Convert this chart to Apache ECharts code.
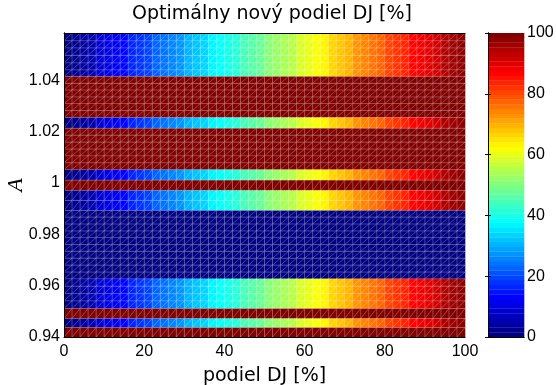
<!DOCTYPE html>
<html>
<head>
<meta charset="utf-8">
<script src="https://cdn.jsdelivr.net/npm/echarts@6/dist/echarts.min.js"></script>
<style>
  html, body { margin: 0; padding: 0; background: #fff; }
  #chart { width: 556px; height: 385px; }
</style>
</head>
<body>
<div id="chart"></div>
<script>
// column edges along "podiel DJ [%]"
var xEdges = [0, 2, 4, 6, 8, 10, 12, 14, 16, 18, 20, 22, 24, 26, 28, 30, 32, 34, 36, 38, 40,
  42, 44, 46, 48, 50, 52, 54, 56, 58, 60, 62, 64, 66, 68, 70, 72, 74, 76, 78, 80,
  82, 84, 86, 88, 90, 92, 94, 96, 98, 100];

// row edges along A (top to bottom)
var rowEdges = [1.0584, 1.0554, 1.0526, 1.0497, 1.0468, 1.0441, 1.0415, 1.0388, 1.0362, 1.0335,
  1.0309, 1.0282, 1.0255, 1.0213, 1.0186, 1.0159, 1.0132, 1.0106, 1.0079, 1.0052,
  1.0011, 0.9971, 0.9932, 0.9893, 0.9867, 0.9840, 0.9813, 0.9787, 0.9760, 0.9734,
  0.9707, 0.9680, 0.9653, 0.9627, 0.9598, 0.9569, 0.9541, 0.9511, 0.9472, 0.9437, 0.94];

// what each row holds: 'grad' = same as podiel DJ, 'max' = 100, 'min' = 0
var rowKind = [
  'grad', 'grad', 'grad', 'grad', 'grad', 'grad',
  'max', 'max', 'max', 'max', 'max', 'max',
  'grad',
  'max', 'max', 'max', 'max', 'max', 'max',
  'grad',
  'max',
  'grad', 'grad',
  'min', 'min', 'min', 'min', 'min', 'min', 'min', 'min', 'min', 'min',
  'grad', 'grad', 'grad', 'grad',
  'max',
  'grad',
  'max'
];

var xTicks = [0, 20, 40, 60, 80, 100];
var yTickStep = 0.02;
var cbarTicks = [0, 20, 40, 60, 80, 100];
var colorSteps = 64;

var jet = ['#000080', '#0000ff', '#0080ff', '#00ffff', '#80ff80', '#ffff00', '#ff8000', '#ff0000', '#800000'];

function level(v) {
  var idx = Math.min(colorSteps - 1, Math.floor(v / 100 * colorSteps));
  return idx / (colorSteps - 1) * 100;
}

var cells = [];
for (var r = 0; r < rowKind.length; r++) {
  for (var c = 0; c < xEdges.length - 1; c++) {
    var v = rowKind[r] === 'max' ? 100 : (rowKind[r] === 'min' ? 0 : xEdges[c]);
    cells.push([xEdges[c], xEdges[c + 1], rowEdges[r + 1], rowEdges[r], v, level(v)]);
  }
}

var bands = [];
for (var i = 0; i < colorSteps; i++) {
  var lo = i * 100 / colorSteps, hi = (i + 1) * 100 / colorSteps;
  bands.push([0, 1, lo, hi, lo, i / (colorSteps - 1) * 100]);
}

var chart = echarts.init(document.getElementById('chart'));
var font = 'Liberation Sans, Arial, sans-serif';
var textFont = 'DejaVu Sans, sans-serif';
var meshColor = 'rgba(255,255,255,0.26)';

function cellItem(mesh) {
  return function (params, api) {
    var p0 = api.coord([api.value(0), api.value(2)]);
    var p1 = api.coord([api.value(1), api.value(3)]);
    var x = p0[0], y = p1[1], w = p1[0] - p0[0], h = p0[1] - p1[1];
    var color = api.visual('color');
    var children = [{
      type: 'rect',
      shape: { x: x, y: y, width: w + 0.3, height: h + 0.3 },
      style: { fill: color }
    }];
    if (mesh) {
      children.push({
        type: 'polyline',
        shape: { points: [[x, y + h], [x, y], [x + w, y]] },
        style: { stroke: meshColor, lineWidth: 1, fill: null }
      });
      children.push({
        type: 'line',
        shape: { x1: x, y1: y + h, x2: x + w, y2: y },
        style: { stroke: meshColor, lineWidth: 1 }
      });
    }
    return { type: 'group', children: children };
  };
}

var option = {
  animation: false,
  backgroundColor: '#fff',
  title: {
    text: 'Optimálny nový podiel DJ [%]',
    left: 267,
    top: 0,
    textAlign: 'center',
    textStyle: { fontFamily: textFont, fontSize: 19, fontWeight: 'normal', color: '#000' }
  },
  grid: [
    { left: 64, top: 33, width: 401, height: 304, outerBoundsMode: 'none' },
    { left: 488, top: 33, width: 36, height: 304, outerBoundsMode: 'none' }
  ],
  visualMap: {
    type: 'continuous',
    show: false,
    min: 0,
    max: 100,
    dimension: 5,
    seriesIndex: [0, 1],
    inRange: { color: jet }
  },
  xAxis: [
    {
      gridIndex: 0, type: 'value', min: 0, max: 100, interval: 20, position: 'bottom', z: 10,
      name: 'podiel DJ [%]', nameLocation: 'middle', nameGap: 30, nameMoveOverlap: false,
      nameTextStyle: { fontFamily: textFont, fontSize: 19, color: '#000' },
      axisLine: { lineStyle: { color: '#000', width: 1 } },
      axisTick: { show: false }, splitLine: { show: false },
      axisLabel: { fontFamily: font, fontSize: 16, color: '#000', margin: 7 }
    },
    {
      gridIndex: 0, type: 'value', min: 0, max: 100, position: 'top', z: 10,
      axisLine: { lineStyle: { color: '#000', width: 1 } },
      axisTick: { show: false }, axisLabel: { show: false }, splitLine: { show: false }
    },
    {
      gridIndex: 1, type: 'value', min: 0, max: 1, position: 'bottom', z: 10,
      axisLine: { lineStyle: { color: '#000', width: 1 } },
      axisTick: { show: false }, axisLabel: { show: false }, splitLine: { show: false }
    },
    {
      gridIndex: 1, type: 'value', min: 0, max: 1, position: 'top', z: 10,
      axisLine: { lineStyle: { color: '#000', width: 1 } },
      axisTick: { show: false }, axisLabel: { show: false }, splitLine: { show: false }
    }
  ],
  yAxis: [
    {
      gridIndex: 0, type: 'value', min: 0.94, max: rowEdges[0], interval: yTickStep, position: 'left', z: 10,
      name: 'A', nameLocation: 'middle', nameGap: 37, nameRotate: 90, nameMoveOverlap: false,
      nameTextStyle: { fontFamily: 'Liberation Serif, serif', fontStyle: 'italic', fontSize: 22, color: '#000' },
      axisLine: { lineStyle: { color: '#000', width: 1 } },
      axisTick: { show: false }, splitLine: { show: false },
      axisLabel: { fontFamily: font, fontSize: 16, color: '#000', margin: 4, showMaxLabel: false }
    },
    {
      gridIndex: 0, type: 'value', min: 0.94, max: rowEdges[0], position: 'right', z: 10,
      axisLine: { lineStyle: { color: '#000', width: 1 } },
      axisTick: { show: false }, axisLabel: { show: false }, splitLine: { show: false }
    },
    {
      gridIndex: 1, type: 'value', min: cbarTicks[0], max: cbarTicks[cbarTicks.length - 1], interval: 20, position: 'right', z: 10,
      axisLine: { lineStyle: { color: '#000', width: 1 } },
      axisTick: { inside: true, length: 3, lineStyle: { color: '#000' } },
      splitLine: { show: false },
      axisLabel: { fontFamily: font, fontSize: 16, color: '#000', margin: 3 }
    },
    {
      gridIndex: 1, type: 'value', min: cbarTicks[0], max: cbarTicks[cbarTicks.length - 1], interval: 20, position: 'left', z: 10,
      axisLine: { lineStyle: { color: '#000', width: 1 } },
      axisTick: { inside: true, length: 3, lineStyle: { color: '#000' } },
      axisLabel: { show: false }, splitLine: { show: false }
    }
  ],
  series: [
    {
      type: 'custom',
      xAxisIndex: 0, yAxisIndex: 0,
      renderItem: cellItem(true),
      encode: { x: [0, 1], y: [2, 3] },
      data: cells,
      silent: true
    },
    {
      type: 'custom',
      xAxisIndex: 2, yAxisIndex: 2,
      renderItem: cellItem(false),
      encode: { x: [0, 1], y: [2, 3] },
      data: bands,
      silent: true
    }
  ]
};

chart.setOption(option);
</script>
</body>
</html>
